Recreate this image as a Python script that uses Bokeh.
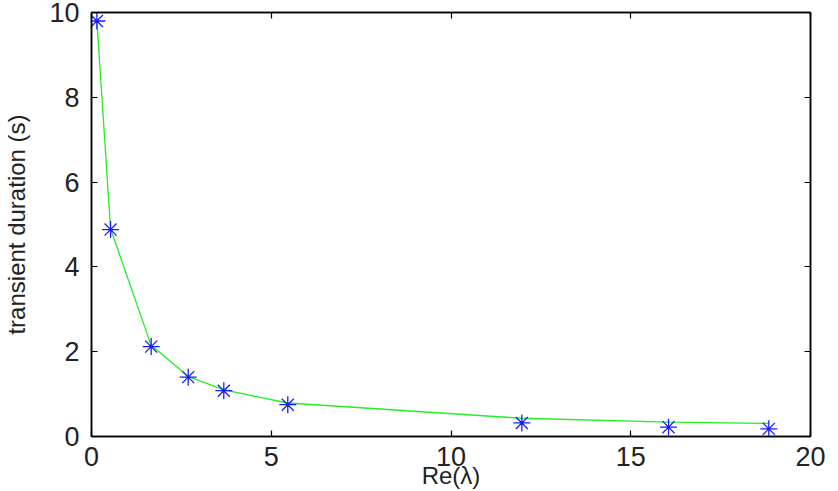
from bokeh.plotting import figure
from bokeh.models import LinearAxis, Range1d, FixedTicker
from bokeh.embed import file_html
from bokeh.resources import INLINE

# data
re_lambda = [0.15, 0.53, 1.66, 2.69, 3.68, 5.46, 11.97, 16.05, 18.84]
duration_pts = [9.8, 4.88, 2.12, 1.4, 1.08, 0.75, 0.32, 0.22, 0.18]
duration_line = [9.8, 4.9, 2.15, 1.42, 1.1, 0.79, 0.43, 0.34, 0.31]
x_ticks = [0, 5, 10, 15, 20]
y_ticks = [0, 2, 4, 6, 8, 10]

FONT = "Liberation Sans"
TXT = "#222222"

p = figure(width=838, height=491, output_backend="svg", toolbar_location=None,
           x_range=Range1d(0, 20), y_range=Range1d(0, 10),
           min_border_left=88, min_border_right=28, min_border_top=12, min_border_bottom=55)

p.line(re_lambda, duration_line, line_color="#22ee22", line_width=1.3)
p.scatter(re_lambda, duration_pts, marker="asterisk", size=17, line_color="#1a1aff", line_width=1.3)

p.grid.visible = False
p.outline_line_color = "black"
p.outline_line_width = 1.5

for ax in p.xaxis + p.yaxis:
    ax.major_tick_in = 6
    ax.major_tick_out = 0
    ax.minor_tick_line_color = None
    ax.axis_line_width = 1.5
    ax.major_tick_line_width = 1.2
    ax.major_label_text_font = FONT
    ax.major_label_text_font_size = "27px"
    ax.major_label_text_color = TXT
    ax.axis_label_text_font = FONT
    ax.axis_label_text_font_size = "24px"
    ax.axis_label_text_font_style = "normal"
    ax.axis_label_text_color = TXT

p.xaxis.ticker = FixedTicker(ticks=x_ticks)
p.yaxis.ticker = FixedTicker(ticks=y_ticks)
p.xaxis.major_label_standoff = 10
p.yaxis.major_label_standoff = 12
p.yaxis.axis_label = "transient duration (s)"
p.yaxis.axis_label_standoff = 16
p.xaxis.axis_label = "Re(λ)"
p.xaxis.axis_label_standoff = -7

blank_x = {t: "" for t in x_ticks}
blank_y = {t: "" for t in y_ticks}
top = LinearAxis(ticker=FixedTicker(ticks=x_ticks), major_label_overrides=blank_x,
                 major_tick_in=6, major_tick_out=0, minor_tick_line_color=None,
                 axis_line_width=1.5, major_tick_line_width=1.2, major_label_standoff=0)
right = LinearAxis(ticker=FixedTicker(ticks=y_ticks), major_label_overrides=blank_y,
                   major_tick_in=6, major_tick_out=0, minor_tick_line_color=None,
                   axis_line_width=1.5, major_tick_line_width=1.2, major_label_standoff=0)
p.add_layout(top, "above")
p.add_layout(right, "right")

open("out.html", "w").write(file_html(p, INLINE))
